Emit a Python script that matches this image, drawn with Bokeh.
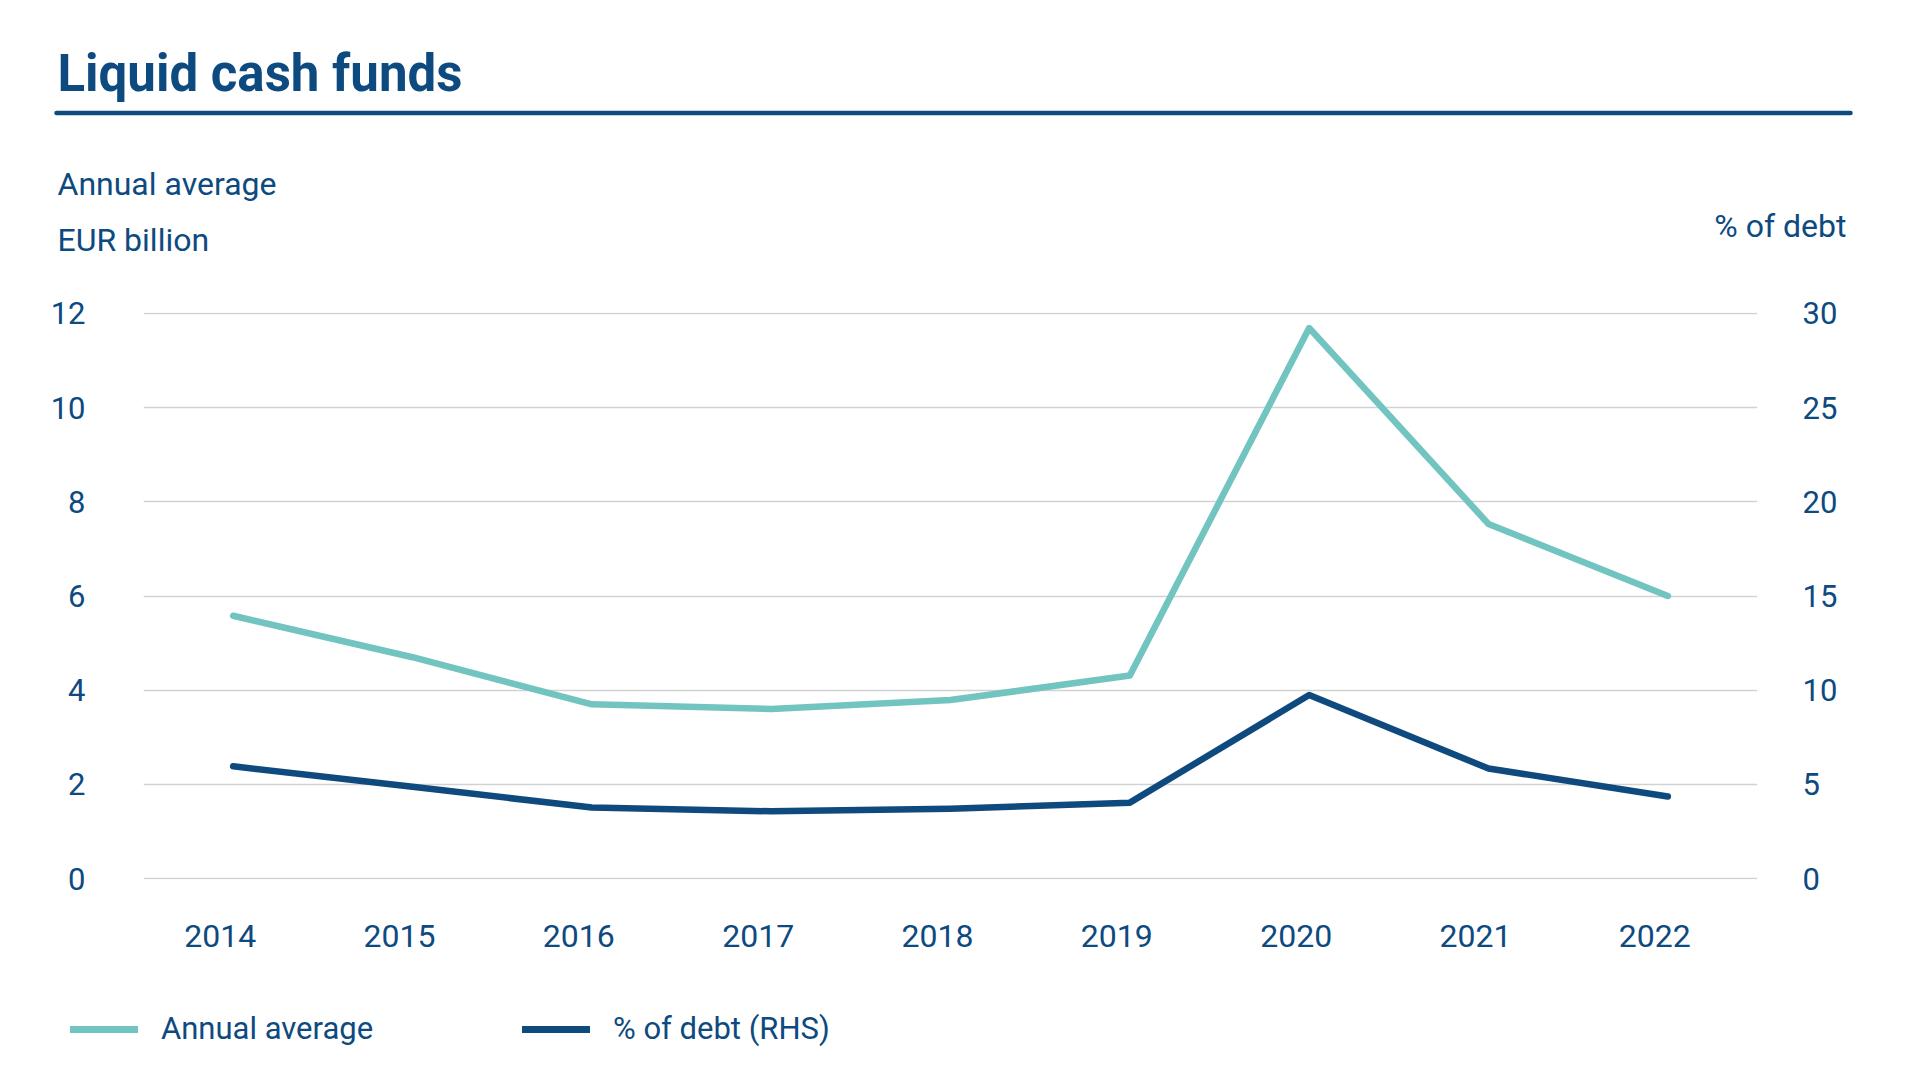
from bokeh.plotting import figure
from bokeh.layouts import column
from bokeh.models import (Range1d, LinearAxis, FixedTicker, Label, Legend, LegendItem)
from bokeh.embed import file_html
from bokeh.resources import INLINE

years = ["2014", "2015", "2016", "2017", "2018", "2019", "2020", "2021", "2022"]
annual_average = [5.58, 4.7, 3.7, 3.6, 3.79, 4.31, 11.69, 7.53, 6.0]
pct_of_debt = [5.96, 4.87, 3.77, 3.57, 3.7, 4.03, 9.74, 5.84, 4.36]
left_ticks = [0, 2, 4, 6, 8, 10, 12]
right_ticks = [0, 5, 10, 15, 20, 25, 30]

TEXT = "#0D4A80"
TEAL = "#72C4C0"
NAVY = "#0E4A7E"
FONT = "Roboto"

W = 1904
H_TOP, H_MAIN, H_BOT = 288, 720, 64


def bare(fig):
    fig.outline_line_color = None
    fig.background_fill_color = "white"
    fig.border_fill_color = "white"
    fig.xgrid.grid_line_color = None
    fig.ygrid.grid_line_color = None


# ---------- header ----------
top = figure(width=W, height=H_TOP, x_range=Range1d(0, W), y_range=Range1d(H_TOP, 0),
             output_backend="svg", toolbar_location=None, x_axis_location=None, y_axis_location=None,
             min_border=0, frame_align=False)
bare(top)
top.add_layout(Label(x=57, y=73, text="Liquid cash funds", text_font=FONT, text_font_style="bold",
                     text_font_size="51px", text_color=TEXT, text_baseline="alphabetic"))
top.segment(x0=[56], y0=[112.5], x1=[1850], y1=[112.5], line_color=TEXT, line_width=4.5,
            line_cap="round")
top.add_layout(Label(x=57, y=183, text="Annual average", text_font=FONT, text_font_size="32px",
                     text_color=TEXT, text_baseline="alphabetic"))
top.add_layout(Label(x=57, y=239, text="EUR billion", text_font=FONT, text_font_size="32px",
                     text_color=TEXT, text_baseline="alphabetic"))
top.add_layout(Label(x=1846, y=225, text="% of debt", text_font=FONT, text_font_size="32px",
                     text_color=TEXT, text_baseline="alphabetic", text_align="right"))

# ---------- main chart ----------
idx = list(range(len(years)))
FL, FR, FT, FB = 143, 1757, 312, 879  # frame edges in page pixels
p = figure(width=W, height=H_MAIN, x_range=Range1d(-0.5, len(years) - 0.5),
           y_range=Range1d(-0.02, 12.02),
           output_backend="svg", toolbar_location=None, x_axis_location=None, y_axis_location=None,
           min_border_left=FL, min_border_right=W - FR, min_border_top=FT - H_TOP,
           min_border_bottom=H_TOP + H_MAIN - FB, frame_align=False)
bare(p)
p.extra_y_ranges = {"pct": Range1d(-0.05, 30.05)}
shift = 13 / ((FR - FL) / len(years))
p.extra_x_ranges = {"lab": Range1d(-0.5 + shift, len(years) - 0.5 + shift)}

p.ygrid.grid_line_color = "#D2D2D2"
p.ygrid.grid_line_width = 1.5
p.ygrid.ticker = FixedTicker(ticks=left_ticks)


def style(ax, standoff):
    ax.axis_line_color = None
    ax.major_tick_line_color = None
    ax.minor_tick_line_color = None
    ax.major_tick_out = 0
    ax.major_tick_in = 0
    ax.major_label_standoff = standoff
    ax.major_label_text_font = FONT
    ax.major_label_text_font_size = "31px"
    ax.major_label_text_color = TEXT


yl = LinearAxis(ticker=FixedTicker(ticks=left_ticks))
style(yl, 58)
p.add_layout(yl, "left")
yr = LinearAxis(y_range_name="pct", ticker=FixedTicker(ticks=right_ticks))
style(yr, 45)
p.add_layout(yr, "right")
xa = LinearAxis(x_range_name="lab", ticker=FixedTicker(ticks=idx),
                major_label_overrides={i: y for i, y in zip(idx, years)})
style(xa, 45)
xa.major_label_text_font_size = "32px"
p.add_layout(xa, "below")

p.line(idx, annual_average, line_color=TEAL, line_width=6.5, line_join="round", line_cap="round")
p.line(idx, pct_of_debt, line_color=NAVY, line_width=6.5, line_join="round", line_cap="round",
       y_range_name="pct")

# ---------- legend ----------
bot = figure(width=W, height=H_BOT, x_range=Range1d(0, 1), y_range=Range1d(0, 1),
             output_backend="svg", toolbar_location=None, x_axis_location=None, y_axis_location=None,
             min_border=0, frame_align=False)
bare(bot)
d1 = bot.line([-10, -9], [-10, -10], line_color=TEAL, line_width=7, line_cap="round")
d2 = bot.line([-10, -9], [-10, -10], line_color=NAVY, line_width=7, line_cap="round")


def make_legend(item_label, renderer, x):
    lg = Legend(items=[LegendItem(label=item_label, renderers=[renderer])],
                location=(x, 25), orientation="horizontal",
                glyph_width=68, glyph_height=30, label_standoff=23, padding=0, margin=0,
                border_line_color=None, background_fill_alpha=0,
                label_text_font=FONT, label_text_font_size="31px", label_text_color=TEXT)
    bot.add_layout(lg, "center")


make_legend("Annual average", d1, 70)
make_legend("% of debt (RHS)", d2, 522)

layout = column(top, p, bot, spacing=0)
open("out.html", "w").write(file_html(layout, INLINE))
